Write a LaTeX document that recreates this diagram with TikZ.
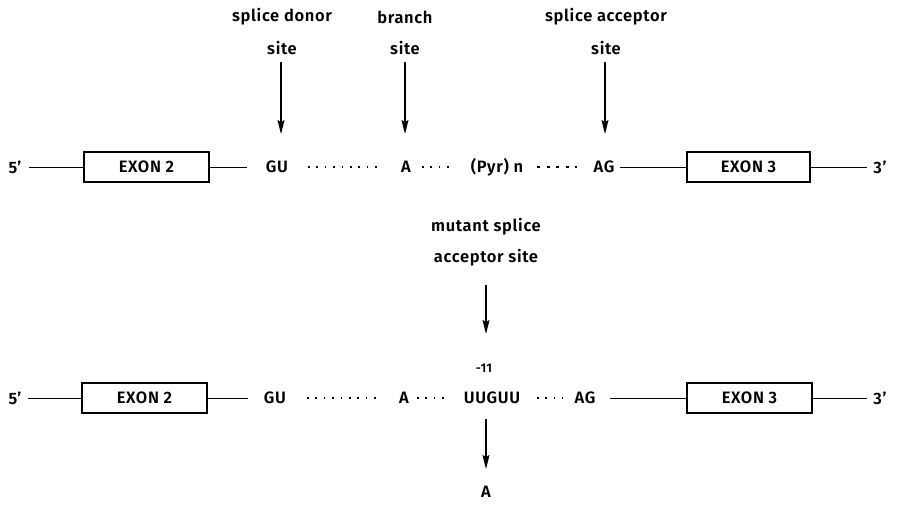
\documentclass[tikz,border=0pt]{standalone}
\usepackage{fontspec}
\setmainfont{Fira Sans}[UprightFont={* SemiBold}, LetterSpace=4]
\usetikzlibrary{arrows.meta}
\newcommand\fsz{\fontsize{16.5}{19}\selectfont}
\newcommand\apos{{\char"27}}
\begin{document}
\begin{tikzpicture}[x=1pt,y=-1pt,
  lbl/.style={font=\fsz, inner sep=0pt},
  exon/.style={draw, line width=1.1pt, minimum height=30pt, inner sep=0pt, font=\fsz},
  seg/.style={line width=0.9pt},
  dotl/.style={line width=1.6pt, dash pattern=on 1.6pt off 6.8pt},
  dashl/.style={line width=1.4pt, dash pattern=on 3pt off 6.5pt},
  arr/.style={line width=1.2pt, -{Stealth[length=14pt,width=7pt,inset=2pt]}}]
\useasboundingbox (0,0) rectangle (900,506);
% ---------- top labels ----------
\node[lbl] (sd1) at (282,17) {splice donor};
\node[lbl] (sd2) at (282,48) {site};
\node[lbl] (br1) at (405,17) {branch};
\node[lbl] (br2) at (405,48) {site};
\node[lbl] (sa1) at (606,17) {splice acceptor};
\node[lbl] (sa2) at (606,48) {site};
\coordinate (s1) at (281,62); \coordinate (t1) at (281,134);
\coordinate (s2) at (405,62); \coordinate (t2) at (405,134);
\coordinate (s3) at (605,62); \coordinate (t3) at (605,134);
\draw[arr] (s1) -- (t1);
\draw[arr] (s2) -- (t2);
\draw[arr] (s3) -- (t3);
% ---------- row 1 ----------
\node[lbl] (p5a) at (15,167) {5\apos};
\node[exon, minimum width=125pt] (e2a) at (146.5,167) {EXON 2};
\node[lbl] (gua) at (277,167) {GU};
\node[lbl] (aa) at (406,167) {A};
\node[lbl] (pyr) at (497,167) {(Pyr) n};
\node[lbl] (aga) at (604,167) {AG};
\node[exon, minimum width=123pt] (e3a) at (748.5,167) {EXON 3};
\node[lbl] (p3a) at (880,167) {3\apos};
\draw[seg, shorten <=14pt] (p5a.center) -- (e2a.west);
\draw[seg, shorten >=30pt] (e2a.east) -- (gua.center);
\draw[dotl, shorten <=31pt, shorten >=28pt] (gua.center) -- (aa.center);
\draw[dotl, shorten <=16pt, shorten >=44pt] (aa.center) -- (pyr.center);
\draw[dashl, shorten <=40pt, shorten >=27pt] (pyr.center) -- (aga.center);
\draw[seg, shorten <=16pt] (aga.center) -- (e3a.west);
\draw[seg, shorten >=13pt] (e3a.east) -- (p3a.center);
% ---------- mutant labels ----------
\node[lbl] (m1) at (486,227) {mutant splice};
\node[lbl] (m2) at (486,258) {acceptor site};
\coordinate (s4) at (486,285); \coordinate (t4) at (486,334);
\draw[arr] (s4) -- (t4);
\node[lbl, font=\fontsize{12.5}{14}\selectfont] (m11) at (484,368) {-11};
% ---------- row 2 ----------
\node[lbl] (p5b) at (15,398) {5\apos};
\node[exon, minimum width=125pt] (e2b) at (144.5,398) {EXON 2};
\node[lbl] (gub) at (275,398) {GU};
\node[lbl] (ab) at (404,398) {A};
\node[lbl] (uug) at (492,398) {UUGUU};
\node[lbl] (agb) at (585,398) {AG};
\node[exon, minimum width=125pt] (e3b) at (749.5,398) {EXON 3};
\node[lbl] (p3b) at (880,398) {3\apos};
\draw[seg, shorten <=13pt] (p5b.center) -- (e2b.west);
\draw[seg, shorten >=27pt] (e2b.east) -- (gub.center);
\draw[dotl, shorten <=32pt, shorten >=24pt] (gub.center) -- (ab.center);
\draw[dotl, shorten <=13pt, shorten >=42pt] (ab.center) -- (uug.center);
\draw[dotl, shorten <=45pt, shorten >=22pt] (uug.center) -- (agb.center);
\draw[seg, shorten <=25pt] (agb.center) -- (e3b.west);
\draw[seg, shorten >=13pt] (e3b.east) -- (p3b.center);
\coordinate (s5) at (486,419); \coordinate (t5) at (486,469);
\draw[arr] (s5) -- (t5);
\node[lbl] (amut) at (486,492) {A};
\end{tikzpicture}
\end{document}
